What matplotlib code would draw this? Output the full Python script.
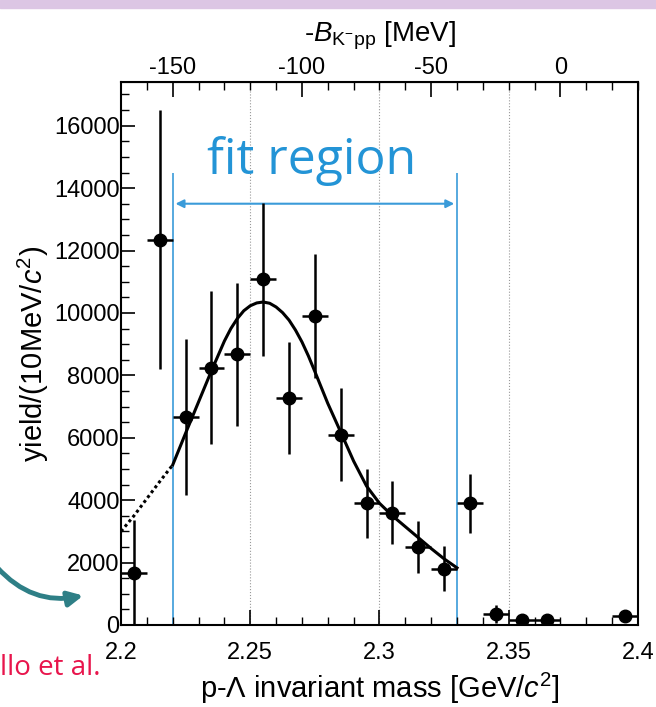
import matplotlib
matplotlib.use("Agg")
import matplotlib.pyplot as plt
from matplotlib.patches import FancyArrowPatch, Rectangle

# datos
masa = [2.205, 2.215, 2.225, 2.235, 2.245, 2.255, 2.265, 2.275, 2.285,
        2.295, 2.305, 2.315, 2.325, 2.335, 2.345, 2.355, 2.365, 2.395]
cuentas = [1650, 12350, 6650, 8250, 8670, 11080, 7270, 9900, 6100,
           3900, 3600, 2500, 1800, 3900, 350, 170, 170, 300]
errores = [1700, 4150, 2500, 2450, 2300, 2450, 1800, 1980, 1500,
           1100, 1000, 830, 720, 950, 300, 100, 100, 150]

# curva de ajuste (punteada fuera de la region)
fit_x_ext = [2.200, 2.205, 2.210, 2.215, 2.220]
fit_y_ext = [3000, 3500, 4050, 4600, 5130]
fit_x = [2.220, 2.225, 2.230, 2.235, 2.240, 2.2425, 2.245, 2.2475, 2.250,
         2.2525, 2.255, 2.2575, 2.260, 2.2625, 2.265, 2.2675, 2.270, 2.2725,
         2.275, 2.280, 2.285, 2.290, 2.295, 2.300, 2.305, 2.310, 2.315,
         2.320, 2.325, 2.330]
fit_y = [5130, 6150, 7150, 8150, 9100, 9500, 9820, 10070, 10230,
         10320, 10350, 10310, 10190, 10010, 9770, 9450, 9070, 8620,
         8120, 7100, 6180, 5250, 4450, 3900, 3500, 3150, 2800,
         2450, 2120, 1830]

region = [2.22, 2.33]
umbral = 2.370  # masa umbral K-pp en GeV

plt.rcParams['font.family'] = ['Liberation Sans', 'DejaVu Sans']
plt.rcParams['mathtext.fontset'] = 'custom'
plt.rcParams['mathtext.rm'] = 'Liberation Sans'
plt.rcParams['mathtext.it'] = 'Liberation Sans:italic'

fig = plt.figure(figsize=(6.56, 7.07), dpi=100)
ax = fig.add_axes([0.1845, 0.1160, 0.7880, 0.7680])

for g in [2.25, 2.30, 2.35]:
    ax.axvline(g, color='#999999', ls=':', lw=0.8, zorder=0)

azul = '#3a9bd9'
ax.vlines(region, 0, 14500, color=azul, lw=1.2, zorder=1)
ax.add_patch(FancyArrowPatch((region[0], 13500), (region[1], 13500),
                             arrowstyle='<|-|>', mutation_scale=12,
                             color=azul, lw=1.5, zorder=1))
ax.text(2.2738, 14450, "fit region", color='#2394d6', fontsize=36,
        family='Open Sans', ha='center', va='baseline')

ax.plot(fit_x_ext, fit_y_ext, color='black', lw=2.2, ls=(0, (1, 1)))
ax.plot(fit_x, fit_y, color='black', lw=2.2, solid_joinstyle='round')

ax.errorbar(masa, cuentas, yerr=errores, xerr=0.005, fmt='o', color='black',
            ms=9, elinewidth=1.8, capsize=0, zorder=3)

ax.set_xlim(2.2, 2.4)
ax.set_ylim(0, 17400)
ax.set_xticks([2.2, 2.25, 2.3, 2.35, 2.4])
ax.set_xticklabels(["2.2", "2.25", "2.3", "2.35", "2.4"])
ax.set_xticks([2.2 + 0.01 * i for i in range(21)], minor=True)
ax.set_yticks(range(0, 17000, 2000))
ax.set_yticks(range(0, 17400, 500), minor=True)
ax.tick_params(axis='both', which='major', direction='in', labelsize=17, width=1.2)
ax.tick_params(axis='y', which='major', length=10, pad=1)
ax.tick_params(axis='both', which='minor', direction='in', length=6, width=1)
ax.tick_params(axis='x', which='major', length=11, pad=12)
for s in ax.spines.values():
    s.set_linewidth(1.5)

ax.set_xlabel(r"p-$\Lambda$ invariant mass [GeV/$c^2$]", fontsize=21, labelpad=5)
ax.set_ylabel(r"yield/(10MeV/$c^2$)", fontsize=21, labelpad=2)

arriba = ax.secondary_xaxis('top', functions=(lambda m: (m - umbral) * 1000,
                                              lambda b: b / 1000 + umbral))
arriba.set_xticks([-150, -100, -50, 0])
arriba.set_xticklabels(["-150", "-100", "-50", "0"])
arriba.set_xticks(range(-160, 31, 10), minor=True)
arriba.tick_params(which='major', direction='in', length=11, labelsize=17,
                   width=1.2, pad=2)
arriba.tick_params(which='minor', direction='in', length=6, width=1)
arriba.set_xlabel(r"-$B_{\mathrm{K^{-}pp}}$ [MeV]", fontsize=20, labelpad=11)

# adornos de la diapositiva
fig.patches.append(Rectangle((0, 0.988), 1, 0.012, transform=fig.transFigure,
                             color='#dcc6e4', zorder=0))
fig.text(0.0, 0.055, "llo et al.", color='#e8154c', fontsize=20,
         family='Open Sans', ha='left', va='center')
fig.patches.append(FancyArrowPatch((-5, 142), (86, 112), transform=None,
                                   connectionstyle='arc3,rad=0.3',
                                   arrowstyle='-|>', mutation_scale=22,
                                   color='#2e7f86', lw=3.5))

fig.savefig("out.png", dpi=100)
